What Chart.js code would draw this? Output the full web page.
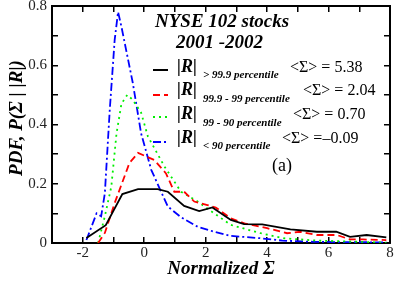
<!DOCTYPE html>
<html>
<head>
<meta charset="utf-8">
<script src="https://cdn.jsdelivr.net/npm/chart.js@4.4.0/dist/chart.umd.min.js"></script>
<style>
  html, body { margin: 0; padding: 0; background: #fff; }
  #wrap { width: 394px; height: 286px; }
</style>
</head>
<body>
<div id="wrap"><canvas id="pdf"></canvas></div>
<script>
// values
const topX = [-1.88, -1.25, -0.71, -0.2, 0.44, 0.77, 1.3, 1.79, 2.22, 2.82, 3.25, 3.84, 4.76, 5.62, 6.25, 6.7, 7.24, 7.88];
const topY = [0.017, 0.06, 0.165, 0.182, 0.182, 0.173, 0.125, 0.108, 0.12, 0.078, 0.064, 0.063, 0.046, 0.038, 0.038, 0.021, 0.027, 0.019];

const midX = [-1.5, -1.28, -0.96, -0.48, -0.2, 0.33, 0.71, 0.98, 1.3, 1.63, 2.06, 2.33, 2.82, 3.3, 3.79, 4.0, 4.65, 5.08, 5.62, 6.27, 6.7, 7.12, 7.88];
const midY = [0, 0.034, 0.135, 0.27, 0.304, 0.28, 0.235, 0.173, 0.173, 0.14, 0.128, 0.12, 0.083, 0.065, 0.055, 0.05, 0.033, 0.038, 0.027, 0.027, 0.012, 0.012, 0.01];

const lowX = [-1.5, -1.28, -1.07, -0.9, -0.74, -0.55, -0.37, -0.1, 0.12, 0.66, 1.2, 1.74, 2.28, 2.82, 3.79, 4.54, 5.62, 6.7, 7.88];
const lowY = [0, 0.09, 0.19, 0.37, 0.47, 0.5, 0.483, 0.44, 0.36, 0.258, 0.173, 0.14, 0.1, 0.061, 0.033, 0.016, 0.008, 0.005, 0.001];

const restX = [-1.88, -1.55, -1.4, -1.28, -1.12, -0.96, -0.85, -0.74, -0.37, -0.1, 0.23, 0.77, 1.2, 1.74, 2.28, 2.82, 3.79, 4.5, 5.5, 6.5, 7.88];
const restY = [0.01, 0.1, 0.09, 0.168, 0.45, 0.686, 0.78, 0.73, 0.54, 0.37, 0.247, 0.123, 0.087, 0.055, 0.038, 0.024, 0.016, 0.008, 0.004, 0.003, 0.002];

const xMin = -3, xMax = 8, xStep = 1;
const yMin = 0, yMax = 0.8, yStep = 0.1;

const subLabels = ['> 99.9 percentile', '99.9 - 99 percentile', '99 - 90 percentile', '< 90 percentile'];
const meanLabels = ['<Σ> = 5.38', '<Σ> = 2.04', '<Σ> = 0.70', '<Σ> =–0.09'];

const lineColors = ['#000000', '#ff0000', '#00ee00', '#0000ff'];
const lineDashes = [[], [7, 4], [2, 4], [8, 3, 2, 3]];

const serif = '"Liberation Serif", "DejaVu Serif", serif';

function pts(xs, ys) {
    return xs.map((x, i) => ({ x: x, y: ys[i] }));
}

// inward ticks: negative tick length, no grid inside the plot
const tickGrid = {
    display: true,
    drawOnChartArea: false,
    drawTicks: true,
    tickLength: -6,
    color: '#000',
    tickColor: '#000',
    lineWidth: 1.5
};
const frameBorder = { display: true, color: '#000', width: 2 };

// titles and the hand-made legend
const texts = {
    id: 'texts',
    afterDraw(chart) {
        const c = chart.ctx;
        c.save();
        c.fillStyle = '#000';
        c.font = 'bold italic 19px ' + serif;
        c.textAlign = 'center';
        c.textBaseline = 'middle';
        c.fillText('Normalized Σ', 221, 269);
        c.save();
        c.translate(17, 118);
        c.rotate(-Math.PI / 2);
        c.fillText('PDF, P(Σ | |R|)', 0, 0);
        c.restore();

        c.textAlign = 'left';
        c.fillText('NYSE 102 stocks', 155, 22);
        c.fillText('2001 -2002', 176, 43);

        const lineY = [70, 95, 117, 142];
        const rY = [67, 90, 114, 138];
        const subY = [75, 99, 123, 146];
        const meanX = [290, 303, 293, 282];
        for (let i = 0; i < 4; i++) {
            c.strokeStyle = lineColors[i];
            c.lineWidth = 2;
            c.setLineDash(lineDashes[i]);
            c.beginPath();
            c.moveTo(153, lineY[i]); c.lineTo(168, lineY[i]);
            c.stroke();
            c.setLineDash([]);
            c.font = 'bold italic 18px ' + serif;
            c.fillText('|R|', 177, rY[i]);
            c.font = 'bold italic 11px ' + serif;
            c.fillText(subLabels[i], 203, subY[i]);
            c.font = '16px ' + serif;
            c.fillText(meanLabels[i], meanX[i], rY[i] + 1);
        }
        c.font = '18px ' + serif;
        c.fillText('(a)', 272, 166);
        c.restore();
    }
};

const series = [[topX, topY], [midX, midY], [lowX, lowY], [restX, restY]];

new Chart(document.getElementById('pdf').getContext('2d'), {
    type: 'scatter',
    data: {
        datasets: series.map((s, i) => ({
            data: pts(s[0], s[1]),
            xAxisID: 'x',
            yAxisID: 'y',
            borderColor: lineColors[i],
            borderDash: lineDashes[i],
            showLine: true,
            pointRadius: 0,
            borderWidth: 1.8
        }))
    },
    options: {
        responsive: true,
        maintainAspectRatio: false,
        animation: false,
        layout: { padding: { top: 6, right: 4, left: 0, bottom: 0 } },
        scales: {
            x: {
                type: 'linear',
                position: 'bottom',
                min: xMin,
                max: xMax,
                afterFit(s) { s.height = 43; s.paddingLeft = 0; s.paddingRight = 0; },
                ticks: {
                    stepSize: xStep,
                    autoSkip: false,
                    maxRotation: 0,
                    padding: 7,
                    color: '#222',
                    font: { family: serif, size: 15 },
                    callback: v => (v % 2 === 0 ? String(v) : '')
                },
                grid: tickGrid,
                border: frameBorder
            },
            y: {
                type: 'linear',
                position: 'left',
                min: yMin,
                max: yMax,
                afterFit(s) { s.width = 52; s.paddingTop = 0; s.paddingBottom = 0; },
                ticks: {
                    stepSize: yStep,
                    autoSkip: false,
                    padding: 11,
                    color: '#222',
                    font: { family: serif, size: 15 },
                    callback: v => {
                        const k = Math.round(v * 10);
                        if (k % 2 !== 0) return '';
                        return k === 0 ? '0' : (k / 10).toFixed(1);
                    }
                },
                grid: tickGrid,
                border: frameBorder
            },
            x2: {
                type: 'linear',
                position: 'top',
                min: xMin,
                max: xMax,
                afterFit(s) { s.height = 0; s.paddingLeft = 0; s.paddingRight = 0; },
                ticks: { display: false, stepSize: xStep, autoSkip: false },
                grid: tickGrid,
                border: frameBorder
            },
            y2: {
                type: 'linear',
                position: 'right',
                min: yMin,
                max: yMax,
                afterFit(s) { s.width = 0; s.paddingTop = 0; s.paddingBottom = 0; },
                ticks: { display: false, stepSize: yStep, autoSkip: false },
                grid: tickGrid,
                border: frameBorder
            }
        },
        plugins: {
            legend: { display: false },
            tooltip: { enabled: false }
        }
    },
    plugins: [texts]
});
</script>
</body>
</html>
